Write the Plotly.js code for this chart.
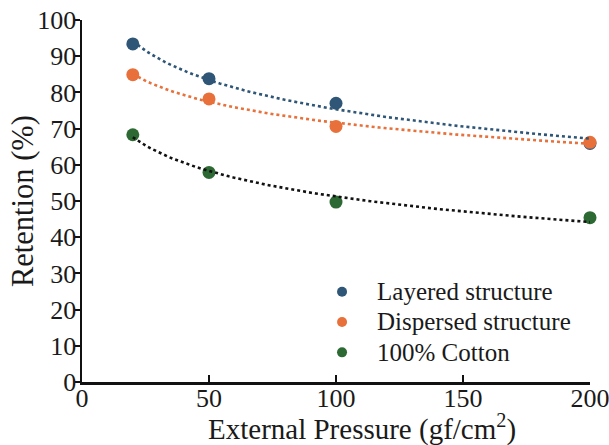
<!DOCTYPE html>
<html><head><meta charset="utf-8">
<script src="https://cdn.plot.ly/plotly-3.0.1.min.js"></script>
<style>html,body{margin:0;padding:0;background:#fff}</style>
</head><body>
<div id="chart" style="width:609px;height:445px"></div>
<script>
const pressure = [20, 50, 100, 200];
const layered = [93.4, 83.8, 77.0, 65.9];
const dispersed = [84.9, 78.2, 70.6, 66.2];
const cotton = [68.3, 57.9, 49.7, 45.4];
const seriesNames = ['Layered structure', 'Dispersed structure', '100% Cotton'];
const markerColors = ['#2f5677', '#e8703a', '#2d6a33'];
const trendColors = ['#2f5677', '#e8703a', '#111111'];
const xTitle = 'External Pressure (gf/cm<sup>2</sup>)';
const yTitle = 'Retention (%)';

// logarithmic least-squares fit y = a ln(x) + b, from the data
function logFit(xs, ys) {
  const lx = xs.map(Math.log);
  const n = xs.length;
  const mx = lx.reduce((s, v) => s + v, 0) / n;
  const my = ys.reduce((s, v) => s + v, 0) / n;
  let sxy = 0, sxx = 0;
  for (let i = 0; i < n; i++) { sxy += (lx[i] - mx) * (ys[i] - my); sxx += (lx[i] - mx) ** 2; }
  const a = sxy / sxx, b = my - a * mx;
  const tx = [], ty = [];
  const x0 = xs[0], x1 = xs[n - 1];
  for (let i = 0; i <= 100; i++) { const x = x0 + (x1 - x0) * i / 100; tx.push(x); ty.push(a * Math.log(x) + b); }
  return {tx, ty};
}

const allSeries = [layered, dispersed, cotton];
const traces = [];
allSeries.forEach((ys, i) => {
  traces.push({x: pressure, y: ys, type: 'scatter', mode: 'markers', name: seriesNames[i], showlegend: false,
    marker: {color: markerColors[i], size: 13}, cliponaxis: false});
});
allSeries.forEach((ys, i) => {
  const f = logFit(pressure, ys);
  traces.push({x: f.tx, y: f.ty, type: 'scatter', mode: 'lines', showlegend: false, hoverinfo: 'skip',
    line: {color: trendColors[i], width: 2.6, dash: 'dot'}});
});
// legend entries (smaller symbols, as in the reference legend)
seriesNames.forEach((nm, i) => {
  traces.push({x: [null], y: [null], type: 'scatter', mode: 'markers',
    name: '<span style="font-size:25px">' + nm + '</span>',
    marker: {color: markerColors[i], size: 10}});
});

const font = '"Liberation Serif", "Times New Roman", serif';
const txt = '#1a1a1a';
const layout = {
  width: 609, height: 445,
  margin: {l: 82, r: 19, t: 20, b: 63},
  paper_bgcolor: '#ffffff', plot_bgcolor: '#ffffff',
  font: {family: font, color: txt, size: 26},
  showlegend: true,
  legend: {x: 0.443, xanchor: 'left', y: 0.305, yanchor: 'top', bgcolor: 'rgba(0,0,0,0)',
    font: {family: font, size: 21, color: txt}, itemwidth: 60, tracegroupgap: 0},
  xaxis: {range: [0, 200], tickvals: [0, 50, 100, 150, 200], ticks: 'inside', ticklen: 7, tickwidth: 2,
    tickcolor: '#111', showline: true, linecolor: '#111', linewidth: 2.5, showgrid: false, zeroline: false,
    automargin: false, ticklabelstandoff: -9, ticklabeloverflow: 'allow',
    tickfont: {family: font, size: 26, color: txt}},
  yaxis: {range: [0, 100], dtick: 10, ticks: 'outside', ticklen: 5, tickwidth: 2, tickcolor: '#111',
    showline: true, linecolor: '#111', linewidth: 2.5, showgrid: false, zeroline: false,
    automargin: false, ticklabelstandoff: -7, ticklabeloverflow: 'allow',
    tickfont: {family: font, size: 26, color: txt}},
  annotations: [
    {text: xTitle, xref: 'paper', yref: 'paper', x: 0.551, y: -0.127, xanchor: 'center', yanchor: 'middle',
     showarrow: false, font: {family: font, size: 29, color: txt}},
    {text: yTitle, xref: 'paper', yref: 'paper', x: -0.116, y: 0.5, xanchor: 'center', yanchor: 'middle',
     textangle: -90, showarrow: false, font: {family: font, size: 30.5, color: txt}}
  ]
};
Plotly.newPlot('chart', traces, layout, {displayModeBar: false, staticPlot: true});
</script>
</body></html>
